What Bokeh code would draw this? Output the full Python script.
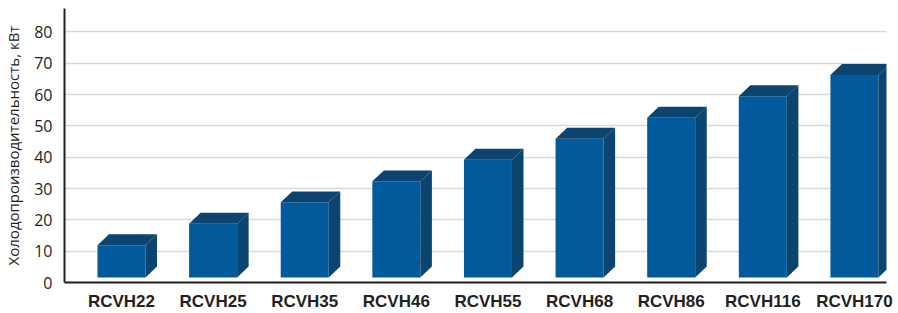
from bokeh.plotting import figure
from bokeh.models import FixedTicker, ColumnDataSource, Range1d
from bokeh.embed import file_html
from bokeh.resources import INLINE

# ---- data ----
models = ["RCVH22", "RCVH25", "RCVH35", "RCVH46", "RCVH55",
          "RCVH68", "RCVH86", "RCVH116", "RCVH170"]
capacity = [11.9, 18.8, 25.6, 32.3, 39.2, 45.9, 52.6, 59.5, 66.3]
y_ticks = [0, 10, 20, 30, 40, 50, 60, 70, 80]
y_title = "Холодопроизводительность, кВт"

# ---- style constants ----
FRONT = "#005A9B"
DARK = "#0B446E"
BAR_W = 0.524
DEPTH_X = 0.126
DEPTH_Y = 3.5
BASE = 1.6

xs = list(range(len(models)))
left = [x - BAR_W / 2 for x in xs]
right = [x + BAR_W / 2 for x in xs]

side_xs, side_ys, top_xs, top_ys = [], [], [], []
for l, r, v in zip(left, right, capacity):
    side_xs.append([r, r + DEPTH_X, r + DEPTH_X, r])
    side_ys.append([BASE, BASE + DEPTH_Y, v + DEPTH_Y, v])
    top_xs.append([l, l + DEPTH_X, r + DEPTH_X, r])
    top_ys.append([v, v + DEPTH_Y, v + DEPTH_Y, v])

p = figure(width=898, height=313, output_backend="svg", toolbar_location=None,
           x_range=Range1d(-0.622, 8.35), y_range=Range1d(0, 87.5),
           min_border_top=8, min_border_left=64, min_border_right=12,
           min_border_bottom=30)
p.outline_line_color = None
p.background_fill_color = "white"
p.border_fill_color = "white"

front_src = ColumnDataSource(dict(left=left, right=right,
                                  bottom=[BASE] * len(xs), top=capacity))
p.quad(left="left", right="right", bottom="bottom", top="top",
       source=front_src, fill_color=FRONT, line_color=None)
p.patches(side_xs, side_ys, fill_color=DARK, line_color=None)
p.patches(top_xs, top_ys, fill_color=DARK, line_color=None)

# grid
p.xgrid.visible = False
p.ygrid.ticker = FixedTicker(ticks=y_ticks[1:])
p.ygrid.grid_line_color = "#d9d9d9"
p.ygrid.grid_line_width = 1.5

# y axis
ya = p.yaxis[0]
ya.ticker = FixedTicker(ticks=y_ticks)
ya.axis_line_color = "#231f20"
ya.axis_line_width = 2
ya.major_tick_line_color = None
ya.minor_tick_line_color = None
ya.major_label_standoff = 6
ya.major_label_text_font = "Open Sans"
ya.major_label_text_font_size = "16px"
ya.major_label_text_color = "#231f20"
ya.axis_label = y_title
ya.axis_label_text_font = "Open Sans"
ya.axis_label_text_font_size = "15px"
ya.axis_label_text_font_style = "normal"
ya.axis_label_text_color = "#231f20"
ya.axis_label_standoff = 8

# x axis
xa = p.xaxis[0]
xa.axis_label = None
xa.ticker = FixedTicker(ticks=xs)
xa.major_label_overrides = {i: m for i, m in enumerate(models)}
xa.axis_line_color = "#231f20"
xa.axis_line_width = 2
xa.major_tick_line_color = None
xa.major_tick_out = 0
xa.major_tick_in = 0
xa.minor_tick_line_color = None
xa.minor_tick_out = 0
xa.major_label_standoff = 9
xa.major_label_text_font = "Liberation Sans"
xa.major_label_text_font_style = "bold"
xa.major_label_text_font_size = "17px"
xa.major_label_text_color = "#231f20"

open("out.html", "w").write(file_html(p, INLINE))
